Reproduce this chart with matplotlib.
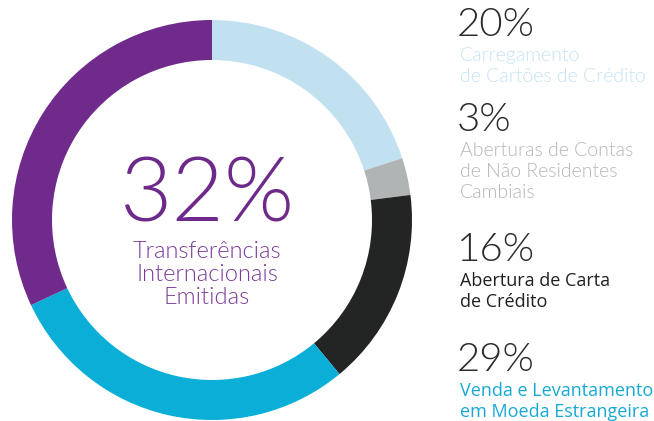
import matplotlib
matplotlib.use("Agg")
import matplotlib.pyplot as plt

# share of each operation type, clockwise from the top
shares = [20, 3, 16, 29, 32]
colors = ["#c1e1f1", "#b1b4b4", "#232524", "#0aaed6", "#6f2a8c"]
pct_labels = ["20%", "3%", "16%", "29%"]
side_labels = [
    ["Carregamento", "de Cartões de Crédito"],
    ["Aberturas de Contas", "de Não Residentes", "Cambiais"],
    ["Abertura de Carta", "de Crédito"],
    ["Venda e Levantamento", "em Moeda Estrangeira"],
]
label_colors = ["#c5e3f2", "#b5b5b5", "#231f20", "#17a9d5"]
center_pct = "32%"
center_label = ["Transferências", "Internacionais", "Emitidas"]

W, H = 654, 421
fig = plt.figure(figsize=(W / 100, H / 100), dpi=100)
ax = fig.add_axes([0, 0, 1, 1])

def py(y):
    # pixel row from top -> data y
    return H - y

ax.pie(shares, colors=colors, startangle=90, counterclock=False,
       center=(212, py(220)), radius=200,
       wedgeprops=dict(width=40, linewidth=0))
ax.set_xlim(0, W)
ax.set_ylim(0, H)
ax.set_aspect("equal")
ax.axis("off")

# weight 350 resolves to Lato-Light (plain "light" picks Lato-Thin)
thin = dict(family=["Lato", "DejaVu Sans"], fontweight=350)
plain = dict(family=["Open Sans", "DejaVu Sans"], fontweight="normal")

# right-hand legend blocks
pct_base = [36, 131, 261, 371]
for i in range(4):
    ax.text(457, py(pct_base[i]), pct_labels[i], fontsize=29, color="#2b2b2b",
            va="baseline", ha="left", **thin)
    style = thin if i < 2 else plain
    for j, line in enumerate(side_labels[i]):
        ax.text(460, py(pct_base[i] + 25 + 21 * j), line, fontsize=14 if i < 2 else 13,
                color=label_colors[i], va="baseline", ha="left", **style)

# centre of the ring
ax.text(207, py(222), center_pct, fontsize=65, color="#6d2a8a",
        va="baseline", ha="center", **thin)
for j, line in enumerate(center_label):
    ax.text(207, py(258 + 23 * j), line, fontsize=17, color="#7c3a98",
            va="baseline", ha="center", **thin)

fig.savefig("out.png", dpi=100)
